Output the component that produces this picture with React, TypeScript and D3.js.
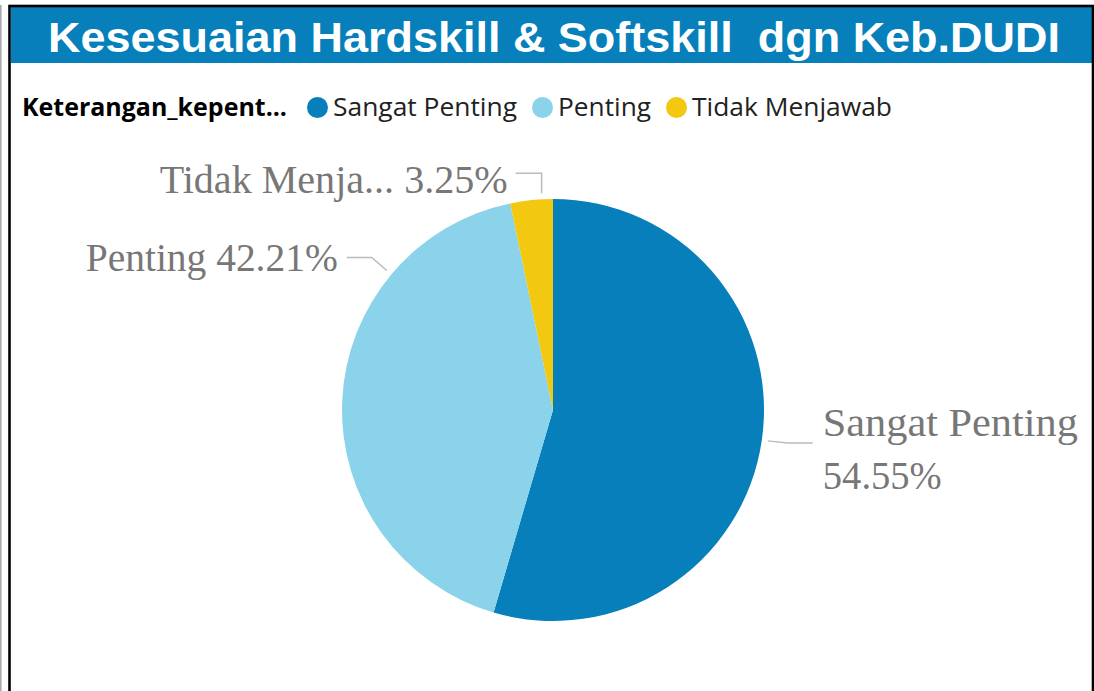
import React, { useEffect, useRef } from "react";
import * as d3 from "d3";

const categories = ["Sangat Penting", "Penting", "Tidak Menjawab"];
const values = [54.55, 42.21, 3.25];
const labelNames = ["Sangat Penting", "Penting", "Tidak Menja..."];
const colors = ["#067FBA", "#8AD3EA", "#F2C811"];
const titleText = "Kesesuaian Hardskill & Softskill\u00a0\u00a0dgn Keb.DUDI";
const legendTitle = "Keterangan_kepent...";

const W = 1094;
const H = 691;

export default function App() {
  const ref = useRef<SVGSVGElement | null>(null);

  useEffect(() => {
    const svg = d3.select(ref.current);
    svg.selectAll("*").remove();

    // frame
    svg.append("rect").attr("x", 0).attr("y", 0).attr("width", W).attr("height", H).attr("fill", "#fff");
    svg.append("line").attr("x1", 0.8).attr("x2", 0.8).attr("y1", 5).attr("y2", H).attr("stroke", "#aaa").attr("stroke-width", 1.6);
    svg.append("rect").attr("x", 11).attr("y", 7).attr("width", 1081).attr("height", 56).attr("fill", "#067FBA");
    svg.append("rect").attr("x", 9.5).attr("y", 6).attr("width", 1083.5).attr("height", 700)
      .attr("fill", "none").attr("stroke", "#000").attr("stroke-width", 2.6);

    // title
    svg.append("text").attr("x", 48).attr("y", 52)
      .attr("font-family", "'Liberation Sans', Arial, sans-serif").attr("font-weight", "bold")
      .attr("font-size", 42).attr("fill", "#fff")
      .attr("textLength", 1012).attr("lengthAdjust", "spacingAndGlyphs")
      .text(titleText);

    // legend
    const lg = svg.append("g").attr("font-family", "'Open Sans', 'Noto Sans', sans-serif").attr("font-size", 25);
    const legendWidths = [184, 93, 200];
    lg.append("text").attr("x", 22).attr("y", 116).attr("font-weight", "bold").attr("fill", "#000")
      .attr("textLength", 265).attr("lengthAdjust", "spacingAndGlyphs").text(legendTitle);
    let lx = 22 + 265 + 20;
    categories.forEach((c, i) => {
      lg.append("circle").attr("cx", lx + 10.5).attr("cy", 107.5).attr("r", 10.5).attr("fill", colors[i]);
      lg.append("text").attr("x", lx + 26).attr("y", 116).attr("fill", "#222")
        .attr("textLength", legendWidths[i]).attr("lengthAdjust", "spacingAndGlyphs").text(c);
      lx = lx + 26 + legendWidths[i] + 15;
    });

    // pie
    const cx = 553, cy = 410, R = 211;
    const pie = d3.pie<number>().sort(null).startAngle(0).endAngle(2 * Math.PI);
    const arcs = pie(values);
    const arc = d3.arc<d3.PieArcDatum<number>>().innerRadius(0).outerRadius(R);
    const g = svg.append("g").attr("transform", `translate(${cx},${cy})`);
    g.selectAll("path.slice").data(arcs).enter().append("path")
      .attr("class", "slice").attr("d", arc as any).attr("fill", (_d, i) => colors[i]);

    // labels
    const layout = [
      { angle: null as number | null, leader: [[0, 0], [20, 2], [45, 2]], tx: 55, lines: [[-5, 255], [48, 119]], anchor: "start" },
      { angle: 310, leader: [[0, 0], [-15, -13], [-40, -13]], tx: -49, lines: [[0, 252]], anchor: "end" },
      { angle: 357, leader: [[0, 0], [0, -20], [-26, -20]], tx: -34, lines: [[0, 348]], anchor: "end" },
    ];
    arcs.forEach((a, i) => {
      const L = layout[i];
      const ang = L.angle === null ? (a.startAngle + a.endAngle) / 2 : (L.angle * Math.PI) / 180;
      const ax = cx + (R + 6) * Math.sin(ang);
      const ay = cy - (R + 6) * Math.cos(ang);
      const line = d3.line();
      svg.append("path")
        .attr("d", line(L.leader.map(([dx, dy]) => [ax + dx, ay + dy]) as [number, number][]))
        .attr("fill", "none").attr("stroke", "#bbb").attr("stroke-width", 1.5);
      const pct = values[i].toFixed(2) + "%";
      const texts = L.lines.length === 2 ? [labelNames[i], pct] : [labelNames[i] + " " + pct];
      texts.forEach((s, k) => {
        svg.append("text")
          .attr("x", ax + L.tx).attr("y", ay + L.lines[k][0])
          .attr("text-anchor", L.anchor)
          .attr("font-family", "'Liberation Serif', 'DejaVu Serif', serif")
          .attr("font-size", 40).attr("fill", "#777")
          .attr("textLength", L.lines[k][1]).attr("lengthAdjust", "spacingAndGlyphs")
          .text(s);
      });
    });
  }, []);

  return (
    <svg ref={ref} width={W} height={H} style={{ position: "absolute", left: 0, top: 0, display: "block" }} />
  );
}
